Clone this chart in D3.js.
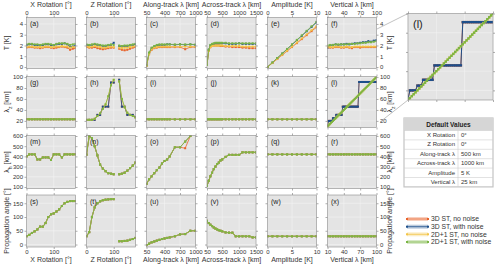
<!DOCTYPE html>
<html><head><meta charset="utf-8">
<script src="https://cdn.jsdelivr.net/npm/d3@7"></script>
<style>
body{margin:0;background:#fff}
text{font-family:"Liberation Sans",Arial,sans-serif;fill:#333}
</style>
</head><body>
<svg id="chart" width="500" height="264"></svg>
<script>
// sample positions along each varied parameter
const xRotSteps = [0,10,20,30,40,50,60,70,80,90,100,110,120,130,140,150,160,170,180];
const zRotSteps = [0,10,20,30,40,50,60,70,80,90,100,110,120,130,140,150,160,170,180];
const alongSteps = [50,100,150,200,250,300,350,400,450,500,600,700,800,900,1000];
const acrossSteps = [50,100,150,200,250,300,350,400,450,500,600,700,800,900,1000,1100,1200,1300,1400,1500];
const ampSteps = [0,1,2,3,4,5,6,7,8,9,10];
const vertSteps = [10,15,20,25,30,35,40,45,50,55,60,65,70,75,80,85,90,95,100];
const vertFine = [10,12,14,16,18,20,22,24,26,28,30,32,34,36,38,40,42,44,46,48,50,52,54,56,58,60,62,64,66,68,70,72,74,76,78,80,82,84,86,88,90,92,94,96,98,100];

// row 1: temperature amplitude T [K]
const tXRotRed = [1.8,1.85,1.85,1.8,1.8,1.75,1.8,1.85,1.85,1.8,1.75,1.8,1.85,1.9,1.85,1.8,1.6,1.7,1.75];
const tXRotBlue = [2.05,2.1,2.1,2.05,2.05,2.0,2.05,2.1,2.1,2.05,2.0,2.1,2.15,2.15,2.2,2.1,1.85,1.9,2.0];
const tXRotYellow = [1.85,1.9,1.9,1.85,1.85,1.85,1.85,1.9,1.9,1.85,1.85,1.9,1.9,1.95,1.9,1.9,1.8,1.85,1.85];
const tXRotGreen = [2.1,2.15,2.15,2.1,2.1,2.05,2.1,2.15,2.15,2.1,2.05,2.15,2.2,2.2,2.2,2.15,2.05,2.1,2.15];
const tZRotRed = [1.85,1.8,1.8,1.85,1.75,1.7,1.65,1.7,1.75,1.8,1.8,null,1.7,1.6,1.55,1.6,1.7,1.8,1.85];
const tZRotBlue = [2.05,2.0,2.05,2.1,2.05,2.0,1.95,1.95,2.0,2.05,2.25,null,1.95,1.9,1.95,1.95,2.0,2.05,2.1];
const tZRotYellow = [1.9,1.85,1.9,1.95,1.9,1.85,1.8,1.8,1.85,1.9,1.85,null,1.8,1.75,1.8,1.8,1.85,1.9,1.95];
const tZRotGreen = [2.1,2.05,2.1,2.15,2.1,2.05,2.0,2.0,2.05,2.1,2.05,null,2.0,1.95,2.0,2.0,2.05,2.1,2.15];
const tAlongRed = [0.1,1.2,1.6,1.75,1.8,1.85,1.85,1.85,1.85,1.85,1.85,1.85,1.65,1.85,1.85];
const tAlongBlue = [0.15,1.3,1.75,1.9,2.0,2.05,2.05,2.05,2.1,2.1,2.05,2.1,2.05,2.1,2.05];
const tAlongYellow = [0.1,1.2,1.65,1.8,1.85,1.9,1.9,1.9,1.9,1.9,1.9,1.9,1.9,1.9,1.9];
const tAlongGreen = [0.15,1.35,1.8,1.95,2.05,2.1,2.1,2.1,2.1,2.1,2.1,2.1,2.1,2.1,2.1];
const tAcrossRed = [0.2,1.5,1.85,1.95,2.0,2.0,2.0,2.0,1.95,1.95,1.9,1.9,1.85,1.85,1.85,1.8,1.8,1.75,1.75,1.75];
const tAcrossBlue = [0.2,1.6,2.0,2.1,2.15,2.2,2.2,2.2,2.2,2.2,2.2,2.15,2.15,2.15,2.2,2.15,2.15,2.15,2.15,2.15];
const tAcrossYellow = [0.2,1.5,1.85,1.95,2.0,2.0,2.0,2.0,2.0,2.0,1.95,1.95,1.95,1.95,1.95,1.9,1.9,1.9,1.9,1.9];
const tAcrossGreen = [0.2,1.6,2.05,2.15,2.2,2.25,2.25,2.25,2.25,2.25,2.25,2.2,2.2,2.2,2.2,2.2,2.2,2.2,2.2,2.2];
const tAmpRed = [0,0.37,0.74,1.11,1.48,1.85,2.22,2.59,2.96,3.33,3.7];
const tAmpBlue = [0,0.41,0.83,1.24,1.66,2.07,2.49,2.9,3.32,3.73,4.15];
const tAmpYellow = [0,0.38,0.76,1.14,1.52,1.9,2.28,2.66,3.04,3.42,3.8];
const tAmpGreen = [0,0.42,0.84,1.26,1.68,2.1,2.52,2.94,3.36,3.78,4.2];
const tVertRed = [1.8,1.8,1.8,1.85,1.85,1.8,1.8,1.85,1.8,1.75,1.85,1.85,1.8,1.85,1.85,1.85,1.85,1.85,1.85];
const tVertBlue = [1.8,2.0,2.05,2.1,2.05,2.1,2.1,2.15,2.1,2.15,2.2,2.2,2.25,2.3,2.3,2.4,2.35,2.45,2.5];
const tVertYellow = [1.85,1.85,1.85,1.9,1.9,1.85,1.85,1.9,1.85,1.85,1.9,1.9,1.9,1.9,1.9,1.9,1.9,1.9,1.9];
const tVertGreen = [2.0,2.05,2.05,2.1,2.1,2.1,2.1,2.1,2.15,2.15,2.15,2.2,2.2,2.25,2.25,2.3,2.3,2.35,2.4];

// row 2: vertical wavelength [km]
const lzXRot = [23,23,23,23,23,23,23,23,23,23,23,23,23,23,23,23,23,23,23];
const lzZRotBlue = [22,22,22,22,31,31,46,46,46,90,90,null,95,46,46,31,31,31,27];
const lzZRotGreen = [22,22,22,24,29,34,42,50,65,85,95,null,92,60,45,35,31,29,26];
const lzAlong = [23,23,23,23,23,23,23,23,23,23,23,23,23,23,23];
const lzAcross = [23,23,23,23,23,23,23,23,23,23,23,23,23,23,23,23,23,23,23,23];
const lzAmp = [23,23,23,23,23,23,23,23,23,23,23];
const lzVertBlue = [11,20,20,20,20,25,25,25,31,31,31,31,31,31,46,46,46,46,46,46,46,46,46,46,46,46,46,46,46,91,91,91,91,91,91,91,91,91,91,91,91,91,91,91,91,91];
const lzVertGreen = [10,12,14,16,18,20,22,24,26,28,30,32,34,36,38,40,42,44,46,48,50,52,54,56,58,60,62,64,66,68,70,72,74,76,78,80,82,84,86,88,90,92,94,96,98,100];

// row 3: horizontal wavelength [km]
const lhXRot = [400,420,420,420,370,370,390,390,390,365,420,420,420,390,420,420,420,420,420];
const lhZRot = [417,600,580,500,410,320,280,255,235,230,225,null,225,230,240,260,285,310,340];
const lhAlongRed = [130,175,205,235,265,290,330,355,370,400,490,490,480,600,650];
const lhAlongGreen = [130,175,205,235,265,290,330,355,370,400,490,490,545,600,650];
const lhAcross = [110,160,205,240,275,300,325,340,360,370,395,415,415,415,415,440,440,440,440,440];
const lhAmp = [420,420,420,420,420,420,420,420,420,420,420];
const lhVert = [420,420,420,420,420,420,420,420,420,420,420,420,420,420,420,420,420,420,420];

// row 4: propagation angle [deg]
const paXRot = [30,35,42,48,55,65,65,78,100,110,113,120,128,140,150,155,158,158,158];
const paZRot = [30,45,100,135,150,157,161,163,164,165,165,null,12,12,13,14,17,20,24];
const paAlong = [-2,3,8,11,14,17,20,22,24,26,30,37,38,50,50];
const paAcross = [86,78,72,67,62,58,55,52,50,48,44,43,43,30,30,30,30,30,26,26];
const paAmp = [30,30,30,30,30,30,30,30,30,30,30];
const paVert = [30,30,30,30,30,30,30,30,30,30,30,30,30,30,30,30,30,30,30];

const seriesNames = ["3D ST, no noise","3D ST, with noise","2D+1 ST, no noise","2D+1 ST, with noise"];
const seriesColors = ["#e8632b","#1d4f8b","#f3c445","#7bb544"];

const defaultLabels = ["X Rotation","Z Rotation","Along-track λ","Across-track λ","Amplitude","Vertical λ"];
const defaultValues = ["0°","0°","500 km","1000 km","5 K","25 km"];

const panelLetters = "abcdefghijklmnopqrstuvwx".split("");

const cols = [
  {title:"X Rotation [°]", domain:[0,180], ticks:[0,100], steps:xRotSteps},
  {title:"Z Rotation [°]", domain:[0,180], ticks:[0,100], steps:zRotSteps},
  {title:"Along-track λ [km]", domain:[50,1000], ticks:[50,400,700,1000], steps:alongSteps},
  {title:"Across-track λ [km]", domain:[50,1500], ticks:[50,500,1000,1500], steps:acrossSteps},
  {title:"Amplitude [K]", domain:[0,10], ticks:[0,5,10], steps:ampSteps},
  {title:"Vertical λ [km]", domain:[10,100], ticks:[10,40,70,100], steps:vertSteps}
];
const rows = [
  {label:["T"," [K]",""], domain:[-0.14,4.6], ticks:[0,1,2,3,4]},
  {label:["λ","z"," [km]"], domain:[8,101], ticks:[20,40,60,80,100]},
  {label:["λ","h"," [km]"], domain:[85,605], ticks:[100,200,300,400,500,600]},
  {label:["Propagation angle [°]","",""], domain:[-9,180], ticks:[0,50,100,150]}
];

const grid = [
  [[tXRotRed,tXRotBlue,tXRotYellow,tXRotGreen],[tZRotRed,tZRotBlue,tZRotYellow,tZRotGreen],
   [tAlongRed,tAlongBlue,tAlongYellow,tAlongGreen],[tAcrossRed,tAcrossBlue,tAcrossYellow,tAcrossGreen],
   [tAmpRed,tAmpBlue,tAmpYellow,tAmpGreen],[tVertRed,tVertBlue,tVertYellow,tVertGreen]],
  [[lzXRot,lzXRot,lzXRot,lzXRot],[lzZRotBlue,lzZRotBlue,lzZRotGreen,lzZRotGreen],
   [lzAlong,lzAlong,lzAlong,lzAlong],[lzAcross,lzAcross,lzAcross,lzAcross],
   [lzAmp,lzAmp,lzAmp,lzAmp],[lzVertBlue,lzVertBlue,lzVertGreen,lzVertGreen]],
  [[lhXRot,lhXRot,lhXRot,lhXRot],[lhZRot,lhZRot,lhZRot,lhZRot],
   [lhAlongRed,lhAlongGreen,lhAlongGreen,lhAlongGreen],[lhAcross,lhAcross,lhAcross,lhAcross],
   [lhAmp,lhAmp,lhAmp,lhAmp],[lhVert,lhVert,lhVert,lhVert]],
  [[paXRot,paXRot,paXRot,paXRot],[paZRot,paZRot,paZRot,paZRot],
   [paAlong,paAlong,paAlong,paAlong],[paAcross,paAcross,paAcross,paAcross],
   [paAmp,paAmp,paAmp,paAmp],[paVert,paVert,paVert,paVert]]
];

const svg = d3.select("#chart");
const colX = [26.5, 86.5, 146.5, 207, 267.5, 327.5], colW = 49;
const rowY = [17.5, 76.5, 135.5, 195], rowH = [51, 51, 53, 52];
const bg = "#e4e4e4", gridCol = "#f4f4f4", frameCol = "#8a8a8a";
const fmt = d3.format("d");
const tickFont = "6px", titleFont = "7px";

let clipId = 0;
function drawPanel(x0, y0, w, h, xs, ys, xTicks, yTicks, data, steps, letter, big) {
  const g = svg.append("g");
  const id = "clip" + (clipId++);
  g.append("clipPath").attr("id", id).append("rect").attr("x", x0).attr("y", y0).attr("width", w).attr("height", h);
  g.append("rect").attr("x", x0).attr("y", y0).attr("width", w).attr("height", h).attr("fill", bg);
  // grid
  g.selectAll(".vg").data(xTicks).join("line")
    .attr("x1", d => xs(d)).attr("x2", d => xs(d)).attr("y1", y0).attr("y2", y0 + h)
    .attr("stroke", gridCol).attr("stroke-width", 0.6);
  g.selectAll(".hg").data(yTicks).join("line")
    .attr("y1", d => ys(d)).attr("y2", d => ys(d)).attr("x1", x0).attr("x2", x0 + w)
    .attr("stroke", gridCol).attr("stroke-width", 0.6);
  // ticks all round
  const axes = [
    [d3.axisTop(xs).tickValues(xTicks), `translate(0,${y0})`],
    [d3.axisBottom(xs).tickValues(xTicks), `translate(0,${y0 + h})`],
    [d3.axisLeft(ys).tickValues(yTicks), `translate(${x0},0)`],
    [d3.axisRight(ys).tickValues(yTicks), `translate(${x0 + w},0)`]
  ];
  axes.forEach(([ax, tr]) => {
    const a = g.append("g").attr("transform", tr).call(ax.tickSize(2).tickFormat(""));
    a.select(".domain").remove();
    a.selectAll("line").attr("stroke", "#777").attr("stroke-width", 0.6);
  });
  // series
  const pg = g.append("g").attr("clip-path", `url(#${id})`);
  const line = d3.line().defined(d => d[1] != null).x(d => xs(d[0])).y(d => ys(d[1]));
  const ms = big ? 2.4 : 2;
  data.forEach((vals, si) => {
    const pts = steps.map((s, i) => [s, vals[i]]);
    pg.append("path").datum(pts).attr("d", line).attr("fill", "none")
      .attr("stroke", seriesColors[si]).attr("stroke-width", big ? 1 : 0.8);
    pg.selectAll(null).data(pts.filter(p => p[1] != null)).join("rect")
      .attr("x", p => xs(p[0]) - ms / 2).attr("y", p => ys(p[1]) - ms / 2)
      .attr("width", ms).attr("height", ms).attr("fill", seriesColors[si]);
  });
  g.append("rect").attr("x", x0).attr("y", y0).attr("width", w).attr("height", h)
    .attr("fill", "none").attr("stroke", frameCol).attr("stroke-width", 0.6);
  g.append("text").attr("x", x0 + (big ? 5 : 3.5)).attr("y", y0 + (big ? 14 : 8.5))
    .style("font-size", big ? "11px" : "7px").style("fill", "#222").text(`(${letter})`);
}

function labelText(sel, parts, size) {
  sel.style("font-size", size);
  sel.append("tspan").text(parts[0]);
  if (parts[1] && parts[2] !== "") {
    sel.append("tspan").attr("baseline-shift", "sub").style("font-size", "5px").text(parts[1]);
    sel.append("tspan").text(parts[2]);
  } else if (parts[1]) {
    sel.append("tspan").text(parts[1]);
  }
}

function styleLabels(a) {
  a.select(".domain").remove();
  a.selectAll("line").remove();
  a.selectAll("text").style("font-size", tickFont).attr("fill", "#333");
}

rows.forEach((r, ri) => {
  const y0 = rowY[ri], h = rowH[ri];
  const ys = d3.scaleLinear().domain(r.domain).range([y0 + h, y0]);
  cols.forEach((c, ci) => {
    const x0 = colX[ci];
    const xs = d3.scaleLinear().domain(c.domain).range([x0, x0 + colW]);
    const steps = (ri === 1 && ci === 5) ? vertFine : c.steps;
    drawPanel(x0, y0, colW, h, xs, ys, c.ticks, r.ticks, grid[ri][ci], steps, panelLetters[ri * 6 + ci], false);
    // outer tick labels
    if (ri === 0) {
      styleLabels(svg.append("g").attr("transform", `translate(0,${y0})`)
        .call(d3.axisTop(xs).tickValues(c.ticks).tickFormat(fmt).tickSize(2).tickPadding(1)));
      svg.append("text").attr("x", x0 + colW / 2).attr("y", 7).attr("text-anchor", "middle")
        .style("font-size", titleFont).text(c.title);
    }
    if (ri === 3) {
      styleLabels(svg.append("g").attr("transform", `translate(0,${y0 + h})`)
        .call(d3.axisBottom(xs).tickValues(c.ticks).tickFormat(fmt).tickSize(2).tickPadding(0.5)));
      svg.append("text").attr("x", x0 + colW / 2).attr("y", 262).attr("text-anchor", "middle")
        .style("font-size", titleFont).text(c.title);
    }
    if (ci === 0 || ci === 5) {
      const ax = ci === 0 ? d3.axisLeft(ys) : d3.axisRight(ys);
      styleLabels(svg.append("g").attr("transform", `translate(${ci === 0 ? x0 : x0 + colW},0)`)
        .call(ax.tickValues(r.ticks).tickFormat(fmt).tickSize(2).tickPadding(1.5)));
      const lx = ci === 0 ? 8.5 : 391.5;
      const t = svg.append("text").attr("text-anchor", "middle")
        .attr("transform", `translate(${lx},${y0 + h / 2}) rotate(-90)`);
      labelText(t, r.label, titleFont);
    }
  });
});

// zoomed copy of panel (l)
const inX0 = 408, inY0 = 13.5, inW = 85, inH = 86.5;
const inXs = d3.scaleLinear().domain(cols[5].domain).range([inX0, inX0 + inW]);
const inYs = d3.scaleLinear().domain([10, 100]).range([inY0 + inH, inY0]);
svg.append("line").attr("x1", 377).attr("y1", 29).attr("x2", inX0).attr("y2", inY0)
  .attr("stroke", "#999").attr("stroke-width", 0.6);
svg.append("line").attr("x1", 380).attr("y1", 122).attr("x2", inX0).attr("y2", inY0 + inH)
  .attr("stroke", "#999").attr("stroke-width", 0.6);
drawPanel(inX0, inY0, inW, inH, inXs, inYs, cols[5].ticks, rows[1].ticks, grid[1][5], vertFine, "l", true);

// table of default values
const tb = svg.append("g");
const tX = 404, tW = 89, tY = 118, headH = 12.5, rowHt = 9.4, divX = 458;
tb.append("rect").attr("x", tX).attr("y", tY).attr("width", tW).attr("height", headH + rowHt * defaultLabels.length)
  .attr("fill", "#fff").attr("stroke", "#c4c4c4").attr("stroke-width", 1.2);
tb.append("rect").attr("x", tX).attr("y", tY).attr("width", tW).attr("height", headH).attr("fill", "#d6d6d6");
tb.append("text").attr("x", tX + tW / 2).attr("y", tY + 8.6).attr("text-anchor", "middle")
  .style("font-size", "6.5px").style("font-weight", "bold").style("fill", "#222").text("Default Values");
defaultLabels.forEach((lab, i) => {
  const ry = tY + headH + i * rowHt;
  tb.append("line").attr("x1", tX).attr("x2", tX + tW).attr("y1", ry).attr("y2", ry).attr("stroke", "#cfcfcf").attr("stroke-width", 0.6);
  tb.append("text").attr("x", divX - 3).attr("y", ry + 6.5).attr("text-anchor", "end").style("font-size", "6px").text(lab);
  tb.append("text").attr("x", divX + 3).attr("y", ry + 6.5).style("font-size", "6px").text(defaultValues[i]);
});
tb.append("line").attr("x1", divX).attr("x2", divX).attr("y1", tY + headH).attr("y2", tY + headH + rowHt * 6)
  .attr("stroke", "#cfcfcf").attr("stroke-width", 0.6);

// legend
const lg = svg.append("g");
const legY = [219, 226.7, 234.3, 242];
seriesNames.forEach((name, i) => {
  const y = legY[i];
  lg.append("line").attr("x1", 407).attr("x2", 428).attr("y1", y).attr("y2", y)
    .attr("stroke", seriesColors[i]).attr("stroke-width", 4).attr("stroke-opacity", 0.3);
  lg.append("line").attr("x1", 407).attr("x2", 428).attr("y1", y).attr("y2", y)
    .attr("stroke", seriesColors[i]).attr("stroke-width", 0.8);
  [407, 428].forEach(px => lg.append("rect").attr("x", px - 1).attr("y", y - 1).attr("width", 2).attr("height", 2).attr("fill", seriesColors[i]));
  lg.append("text").attr("x", 431).attr("y", y + 2.4).style("font-size", "6.8px").text(name);
});
</script>
</body></html>
